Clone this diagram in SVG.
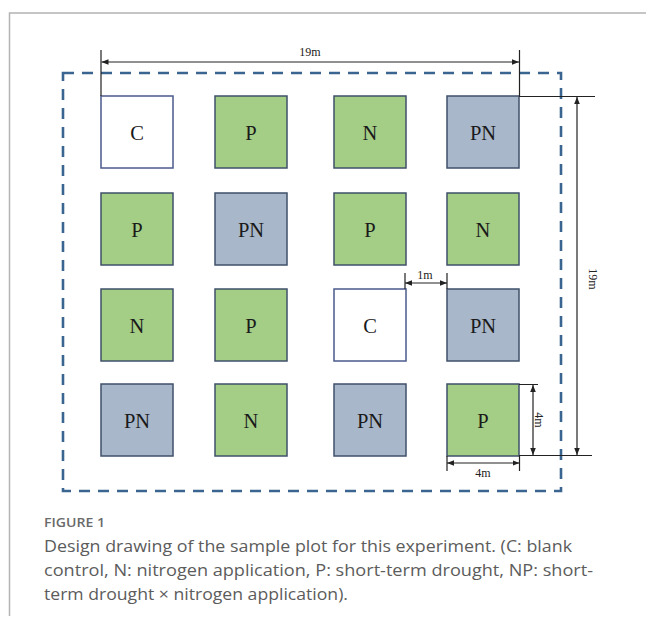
<svg xmlns="http://www.w3.org/2000/svg" width="646" height="621" viewBox="0 0 646 621">
<defs>
<style>
.plot{stroke:#3f5069;stroke-width:1.5}
.g{fill:#a4cd86}
.b{fill:#a9b7ca}
.w{fill:#ffffff;stroke:#4a5a8c}
.lbl{font-family:"Liberation Serif","Times New Roman",serif;font-size:20.5px;fill:#1a1a1a;text-anchor:middle}
.dim{stroke:#222;stroke-width:1.2;fill:none}
.dimt{font-family:"Liberation Serif","Times New Roman",serif;font-size:12px;fill:#222;text-anchor:middle}
.cap{font-family:"Open Sans","Noto Sans",sans-serif;font-size:16.5px;fill:#5c5c5c}
</style>
<marker id="ah" viewBox="0 0 10 10" refX="10" refY="5" markerWidth="7" markerHeight="7" markerUnits="userSpaceOnUse" orient="auto-start-reverse">
<path d="M0,1 L10,5 L0,9 Z" fill="#222"/>
</marker>
</defs>
<rect width="646" height="621" fill="#fff"/>
<path d="M646,13 H9.5 V616" fill="none" stroke="#b3b3b3" stroke-width="1.5"/>
<rect id="boundary" x="63" y="73" width="498" height="418" fill="none" stroke="#3b6591" stroke-width="2.6" stroke-dasharray="11 8"/>
<g id="plots">
<g id="r1c1"><rect class="plot w" x="101" y="96" width="72" height="72"/><text class="lbl" x="137" y="140">C</text></g>
<g id="r1c2"><rect class="plot g" x="215" y="96" width="72" height="72"/><text class="lbl" x="251" y="140">P</text></g>
<g id="r1c3"><rect class="plot g" x="334" y="96" width="72" height="72"/><text class="lbl" x="370" y="140">N</text></g>
<g id="r1c4"><rect class="plot b" x="447" y="96" width="72" height="72"/><text class="lbl" x="483" y="140">PN</text></g>
<g id="r2c1"><rect class="plot g" x="101" y="193" width="72" height="72"/><text class="lbl" x="137" y="237">P</text></g>
<g id="r2c2"><rect class="plot b" x="215" y="193" width="72" height="72"/><text class="lbl" x="251" y="237">PN</text></g>
<g id="r2c3"><rect class="plot g" x="334" y="193" width="72" height="72"/><text class="lbl" x="370" y="237">P</text></g>
<g id="r2c4"><rect class="plot g" x="447" y="193" width="72" height="72"/><text class="lbl" x="483" y="237">N</text></g>
<g id="r3c1"><rect class="plot g" x="101" y="289" width="72" height="72"/><text class="lbl" x="137" y="333">N</text></g>
<g id="r3c2"><rect class="plot g" x="215" y="289" width="72" height="72"/><text class="lbl" x="251" y="333">P</text></g>
<g id="r3c3"><rect class="plot w" x="334" y="289" width="72" height="72"/><text class="lbl" x="370" y="333">C</text></g>
<g id="r3c4"><rect class="plot b" x="447" y="289" width="72" height="72"/><text class="lbl" x="483" y="333">PN</text></g>
<g id="r4c1"><rect class="plot b" x="101" y="384" width="72" height="72"/><text class="lbl" x="137" y="428">PN</text></g>
<g id="r4c2"><rect class="plot g" x="215" y="384" width="72" height="72"/><text class="lbl" x="251" y="428">N</text></g>
<g id="r4c3"><rect class="plot b" x="334" y="384" width="72" height="72"/><text class="lbl" x="370" y="428">PN</text></g>
<g id="r4c4"><rect class="plot g" x="447" y="384" width="72" height="72"/><text class="lbl" x="483" y="428">P</text></g>
</g>
<g id="dimensions">
<path class="dim" d="M101,50 V96 M519.5,50 V96 M519,96.5 H595 M519,455.5 H592 M519,384.5 H538 M405,273 V289 M447,273 V289 M447,456 V471 M519.5,456 V471"/>
<line class="dim" x1="101.5" y1="62" x2="519" y2="62" marker-start="url(#ah)" marker-end="url(#ah)"/>
<line class="dim" x1="577" y1="97" x2="577" y2="455" marker-start="url(#ah)" marker-end="url(#ah)"/>
<line class="dim" x1="533" y1="385" x2="533" y2="455" marker-start="url(#ah)" marker-end="url(#ah)"/>
<line class="dim" x1="405" y1="283" x2="447" y2="283" marker-start="url(#ah)" marker-end="url(#ah)"/>
<line class="dim" x1="447" y1="463" x2="519.5" y2="463" marker-start="url(#ah)" marker-end="url(#ah)"/>
<text class="dimt" x="310" y="56">19m</text>
<text class="dimt" x="425" y="279">1m</text>
<text class="dimt" x="483" y="477">4m</text>
<text class="dimt" transform="translate(593,279) rotate(90)" y="4">19m</text>
<text class="dimt" transform="translate(539,420) rotate(90)" y="4">4m</text>
</g>
<g id="caption">
<text x="44" y="527" font-family="'Open Sans','Noto Sans',sans-serif" font-size="12.5" font-weight="600" fill="#6a6a6a" textLength="61" lengthAdjust="spacingAndGlyphs">FIGURE 1</text>
<text class="cap" x="44" y="552" textLength="528" lengthAdjust="spacingAndGlyphs">Design drawing of the sample plot for this experiment. (C: blank</text>
<text class="cap" x="44" y="576" textLength="549" lengthAdjust="spacingAndGlyphs">control, N: nitrogen application, P: short-term drought, NP: short-</text>
<text class="cap" x="44" y="600" textLength="304" lengthAdjust="spacingAndGlyphs">term drought × nitrogen application).</text>
</g>
</svg>
